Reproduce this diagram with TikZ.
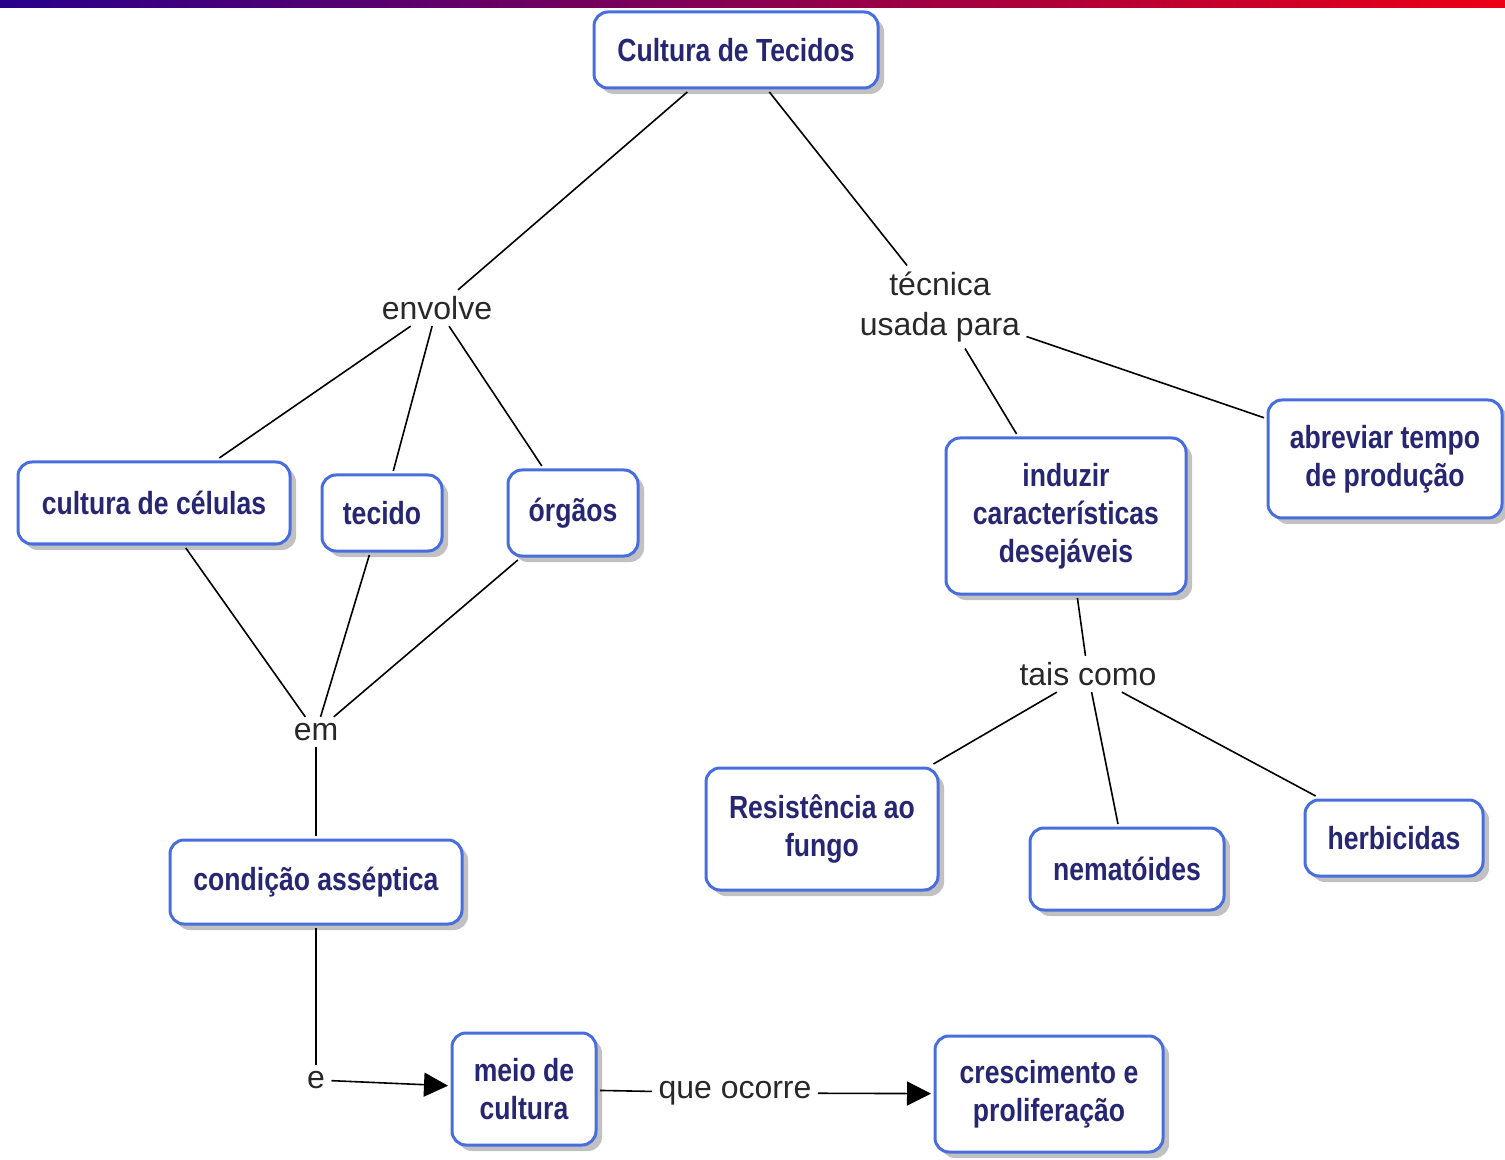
\documentclass[tikz,border=0pt]{standalone}
\usepackage{fontspec}
\setmainfont{Liberation Sans}
\newfontfamily\narrowfont[FakeStretch=0.83]{Liberation Sans}
\usepackage{xcolor}
\usetikzlibrary{arrows.meta,shadows}
\definecolor{mapblue}{RGB}{72,110,222}
\definecolor{mapnavy}{RGB}{38,38,115}
\definecolor{linkgray}{RGB}{40,40,40}
\definecolor{barleft}{RGB}{40,0,140}
\definecolor{barmid}{RGB}{150,0,125}
\definecolor{barright}{RGB}{235,0,20}

\begin{document}
\begin{tikzpicture}[x=0.5pt,y=-0.5pt,
      conc/.style={draw=mapblue, line width=1.5pt, fill=white, rounded corners=7pt,
                  text=mapnavy, font=\narrowfont\bfseries\fontsize{16}{19}\selectfont,
                  align=center, outer sep=2pt,
                  drop shadow={shadow xshift=3pt, shadow yshift=-3pt,
                               fill=black!35, opacity=0.7}},
      lnk/.style={font=\fontsize{16}{20}\selectfont, text=linkgray,
                  inner sep=3pt, align=center},
      con/.style={line width=0.8pt, draw=black},
      arr/.style={con, -{Triangle[length=12pt,width=12pt]}}
  ]
    \useasboundingbox (0,0) rectangle (1505,1160);
    \shade[left color=barleft, middle color=barmid, right color=barright] (0,0) rectangle (1505,8);

    % concepts
    \node[conc, minimum width=142pt, minimum height=38pt] (cdt) at (736,50) {Cultura de Tecidos};
    \node[conc, minimum width=136pt, minimum height=41pt] (cel) at (154,503) {cultura de células};
    \node[conc, minimum width=60pt, minimum height=38pt] (tec) at (382,513) {tecido};
    \node[conc, minimum width=65pt, minimum height=43pt] (org) at (573,513) {órgãos};
    \node[conc, minimum width=146pt, minimum height=42pt] (ass) at (316,882) {condição asséptica};
    \node[conc, minimum width=72pt, minimum height=56pt] (meio) at (524,1089) {meio de\\ cultura};
    \node[conc, minimum width=114pt, minimum height=58pt] (cres) at (1049,1094) {crescimento e\\ proliferação};
    \node[conc, minimum width=120pt, minimum height=78pt] (ind) at (1066,516) {induzir\\ características\\ desejáveis};
    \node[conc, minimum width=117pt, minimum height=59pt] (abr) at (1385,459) {abreviar tempo\\ de produção};
    \node[conc, minimum width=116pt, minimum height=61pt] (res) at (822,829) {Resistência ao\\ fungo};
    \node[conc, minimum width=97pt, minimum height=41pt] (nem) at (1127,869) {nematóides};
    \node[conc, minimum width=89pt, minimum height=38pt] (her) at (1394,838) {herbicidas};

    % linking phrases
    \node[lnk] (env) at (437,308) {envolve};
    \node[lnk] (usa) at (940,307) {técnica\\ usada para};
    \node[lnk] (em) at (316,732) {em};
    \node[lnk] (e) at (316,1080) {e};
    \node[lnk] (que) at (735,1093) {que ocorre};
    \node[lnk] (tais) at (1088,674) {tais como};

    \draw[con] (cdt)--(env); \draw[con] (cdt)--(usa);
    \draw[con] (env)--(cel); \draw[con] (env)--(tec); \draw[con] (env)--(org);
    \draw[con] (cel)--(em); \draw[con] (tec)--(em); \draw[con] (org)--(em);
    \draw[con] (em)--(ass); \draw[con] (ass)--(e);
    \draw[arr] (e)--(meio); \draw[con] (meio)--(que); \draw[arr] (que)--(cres);
    \draw[con] (usa)--(ind); \draw[con] (usa)--(abr);
    \draw[con] (ind)--(tais);
    \draw[con] (tais)--(res); \draw[con] (tais)--(nem); \draw[con] (tais)--(her);
  \end{tikzpicture}
\end{document}
